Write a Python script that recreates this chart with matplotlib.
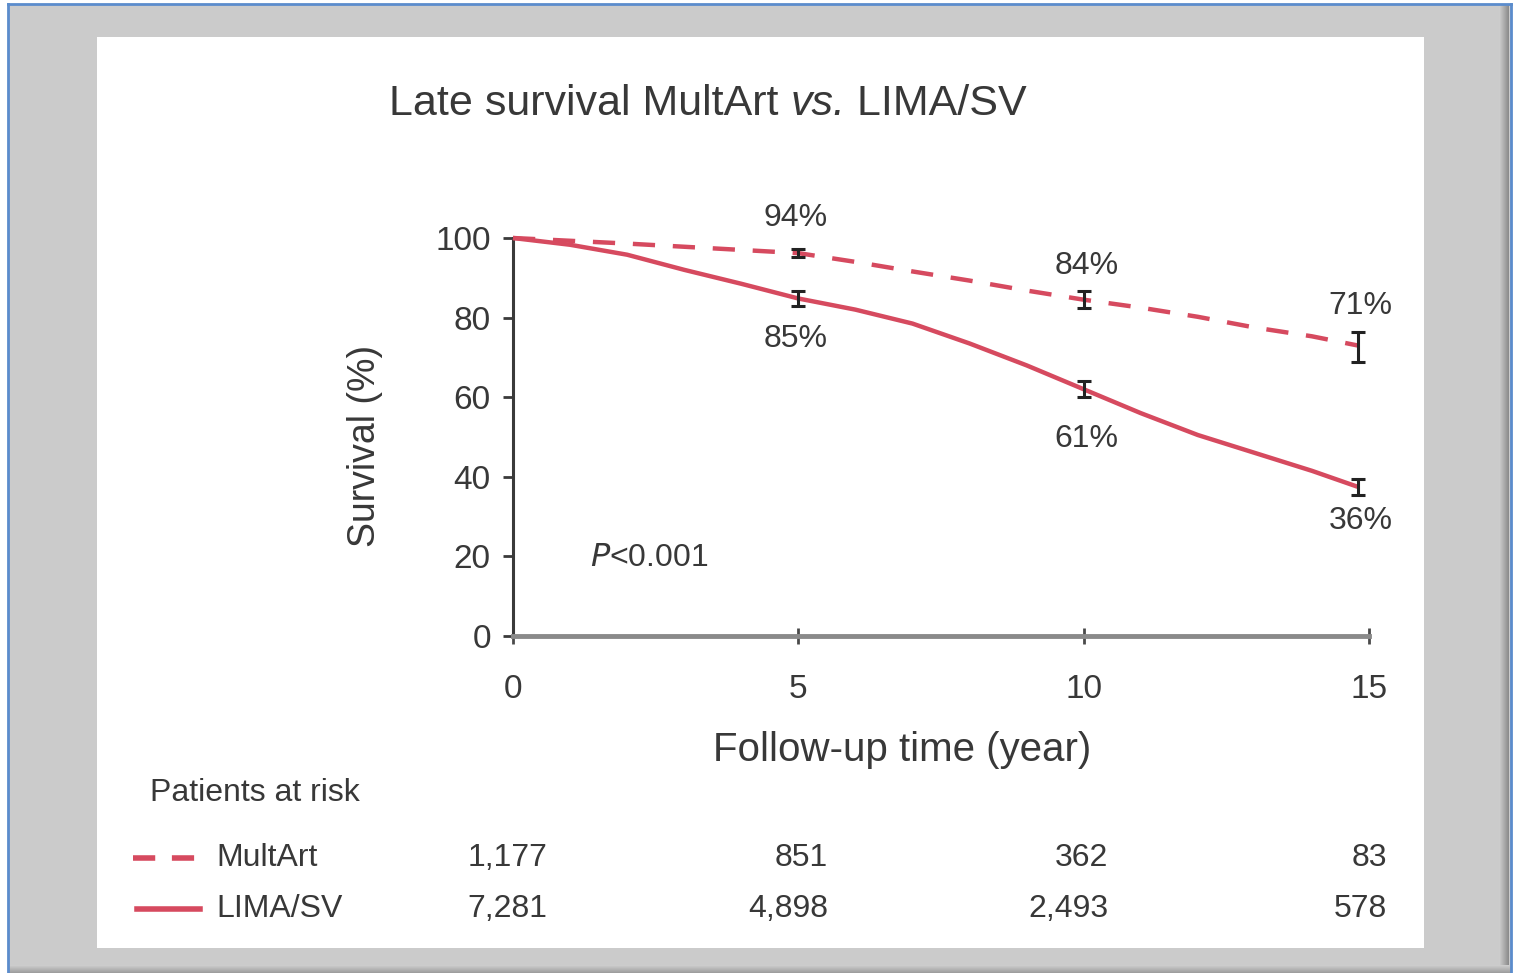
import matplotlib
matplotlib.use("Agg")
import matplotlib.pyplot as plt
from matplotlib.patches import Rectangle
from matplotlib.lines import Line2D
import matplotlib.transforms as mtransforms
import numpy as np

# ---------------- data ----------------
title_parts = ["Late survival MultArt ", "vs.", " LIMA/SV"]
title_styles = ["normal", "italic", "normal"]

multart_t = [0, 1, 2, 3, 4, 5, 6, 7, 8, 9, 10, 11, 12, 13, 14, 14.8]
multart_s = [100, 99.3, 98.6, 97.8, 97.0, 96.2, 94.0, 91.6, 89.3, 86.8, 84.5, 82.5, 80.2, 77.5, 75.3, 73.0]

limasv_t = [0, 1, 2, 3, 4, 5, 6, 7, 8, 9, 10, 11, 12, 13, 14, 14.8]
limasv_s = [100, 98.3, 95.8, 92.0, 88.5, 84.8, 82.0, 78.5, 73.5, 68.0, 62.0, 56.0, 50.5, 46.0, 41.5, 37.5]

err_t = [5, 10, 14.8]
multart_err_s = [96.2, 84.5, 72.6]
multart_err = [1.0, 2.2, 3.8]
limasv_err_s = [84.8, 62.0, 37.5]
limasv_err = [1.8, 2.0, 2.0]

pct_x = [4.95, 10.05, 14.85]
pct_multart = ["94%", "84%", "71%"]
pct_multart_y = [105, 93, 83]
pct_limasv = ["85%", "61%", "36%"]
pct_limasv_y = [74.5, 49.5, 29]

xticks = [0, 5, 10, 15]
yticks = [0, 20, 40, 60, 80, 100]

risk_times = [0, 5, 10, 15]
risk_label_x = [0.6, 5.52, 10.43, 15.31]
risk_multart = ["1,177", "851", "362", "83"]
risk_limasv = ["7,281", "4,898", "2,493", "578"]

line_color = "#d64a5f"
text_color = "#383838"
font = "Liberation Sans"

W, H = 1513, 973
fig = plt.figure(figsize=(W / 100, H / 100), dpi=100)
fig.patch.set_facecolor("white")

def px_rect(x0, y0, x1, y1, **kw):
    r = Rectangle((x0 / W, 1 - y1 / H), (x1 - x0) / W, (y1 - y0) / H,
                  transform=fig.transFigure, **kw)
    fig.add_artist(r)

# grey frame + shadow
px_rect(8, 4, 1511, 973, facecolor="#cbcbcb", edgecolor="none", zorder=-3)
for i, c in enumerate(np.linspace(0.80, 0.55, 10)):
    px_rect(1499 + i, 4, 1500 + i, 973, facecolor=str(c), edgecolor="none", zorder=-2.5)
for i, c in enumerate(np.linspace(0.80, 0.62, 8)):
    px_rect(8, 965 + i, 1511, 966 + i, facecolor=str(c), edgecolor="none", zorder=-2.5)
for xs, ys in [([8, 8], [4, 973]), ([8, 1511], [4, 4]), ([1511, 1511], [4, 973])]:
    fig.add_artist(Line2D([x / W for x in xs], [1 - y / H for y in ys],
                          transform=fig.transFigure, color="#5b8ccc", lw=2, zorder=-2))
# white panel
px_rect(97, 37, 1424, 948, facecolor="white", edgecolor="none", zorder=-1)

# ---------------- axes ----------------
ax = fig.add_axes([513 / W, 1 - 636 / H, (1369 - 513) / W, (636 - 238) / H])
ax.set_zorder(5)
ax.set_facecolor("none")
ax.set_xlim(0, 15)
ax.set_ylim(0, 100)
for s in ["top", "right"]:
    ax.spines[s].set_visible(False)
ax.spines["left"].set_color("#3a3a3a")
ax.spines["left"].set_linewidth(2.2)
ax.spines["bottom"].set_color("#8a8a8a")
ax.spines["bottom"].set_linewidth(3.5)
ax.set_xticks(xticks)
ax.set_yticks(yticks)
ax.tick_params(axis="y", direction="out", length=7, width=2, color="#3a3a3a",
               labelsize=24, labelcolor=text_color, pad=9)
ax.tick_params(axis="x", direction="inout", length=12, width=2, color="#4a4a4a",
               labelsize=24, labelcolor=text_color, pad=21)
for lab in ax.get_xticklabels() + ax.get_yticklabels():
    lab.set_fontfamily(font)

ax.plot(limasv_t, limasv_s, color=line_color, lw=3.2, solid_capstyle="butt", zorder=3, clip_on=False)
ax.plot(multart_t, multart_s, color=line_color, lw=3.2, dashes=(5, 4), zorder=3, clip_on=False)

ax.errorbar(err_t, multart_err_s, yerr=multart_err, fmt="none", ecolor="#222222",
            elinewidth=2.2, capsize=5, capthick=2.2, zorder=4)
ax.errorbar(err_t, limasv_err_s, yerr=limasv_err, fmt="none", ecolor="#222222",
            elinewidth=2.2, capsize=5, capthick=2.2, zorder=4)

for x, y, t in zip(pct_x, pct_multart_y, pct_multart):
    ax.text(x, y, t, ha="center", va="center", fontsize=23, color=text_color,
            family=font, clip_on=False)
for x, y, t in zip(pct_x, pct_limasv_y, pct_limasv):
    ax.text(x, y, t, ha="center", va="center", fontsize=23, color=text_color,
            family=font, clip_on=False)

ax.text(1.35, 19.5, "$\\mathit{P}$<0.001", ha="left", va="center", fontsize=23,
        color=text_color, family=font)

ax.set_ylabel("Survival (%)", fontsize=27, color=text_color, family=font)
ax.yaxis.set_label_coords(-0.152, 0.477)

# x label positioned like the reference (slightly left of axes centre)
fig.text(902 / W, 1 - 750 / H, "Follow-up time (year)", ha="center", va="center",
         fontsize=29, color=text_color, family=font)

# ---------------- title (pieces, italic "vs.") ----------------
fig.canvas.draw()
renderer = fig.canvas.get_renderer()
pieces = []
for part, st in zip(title_parts, title_styles):
    t = fig.text(0, 1 - 104 / H, part, ha="left", va="center", fontsize=31,
                 color=text_color, family=font, style=st)
    pieces.append(t)
widths = [p.get_window_extent(renderer).width for p in pieces]
x = 708 - sum(widths) / 2
for p, w in zip(pieces, widths):
    p.set_x(x / W)
    x += w

# ---------------- patients at risk ----------------
fig.text(255 / W, 1 - 793 / H, "Patients at risk", ha="center", va="center",
         fontsize=23, color=text_color, family=font)

row_y = [858, 909]
fig.add_artist(Line2D([133 / W, 200 / W], [1 - row_y[0] / H] * 2, transform=fig.transFigure,
                      color=line_color, lw=4, dashes=(4, 3)))
fig.add_artist(Line2D([137 / W, 200 / W], [1 - row_y[1] / H] * 2, transform=fig.transFigure,
                      color=line_color, lw=4))
fig.text(216 / W, 1 - row_y[0] / H, "MultArt", ha="left", va="center", fontsize=23,
         color=text_color, family=font)
fig.text(216 / W, 1 - row_y[1] / H, "LIMA/SV", ha="left", va="center", fontsize=23,
         color=text_color, family=font)

trans = mtransforms.blended_transform_factory(ax.transData, fig.transFigure)
for xr, a, b in zip(risk_label_x, risk_multart, risk_limasv):
    ax.text(xr, 1 - row_y[0] / H, a, transform=trans, ha="right", va="center",
            fontsize=23, color=text_color, family=font, clip_on=False)
    ax.text(xr, 1 - row_y[1] / H, b, transform=trans, ha="right", va="center",
            fontsize=23, color=text_color, family=font, clip_on=False)

fig.savefig("out.png", dpi=100)
